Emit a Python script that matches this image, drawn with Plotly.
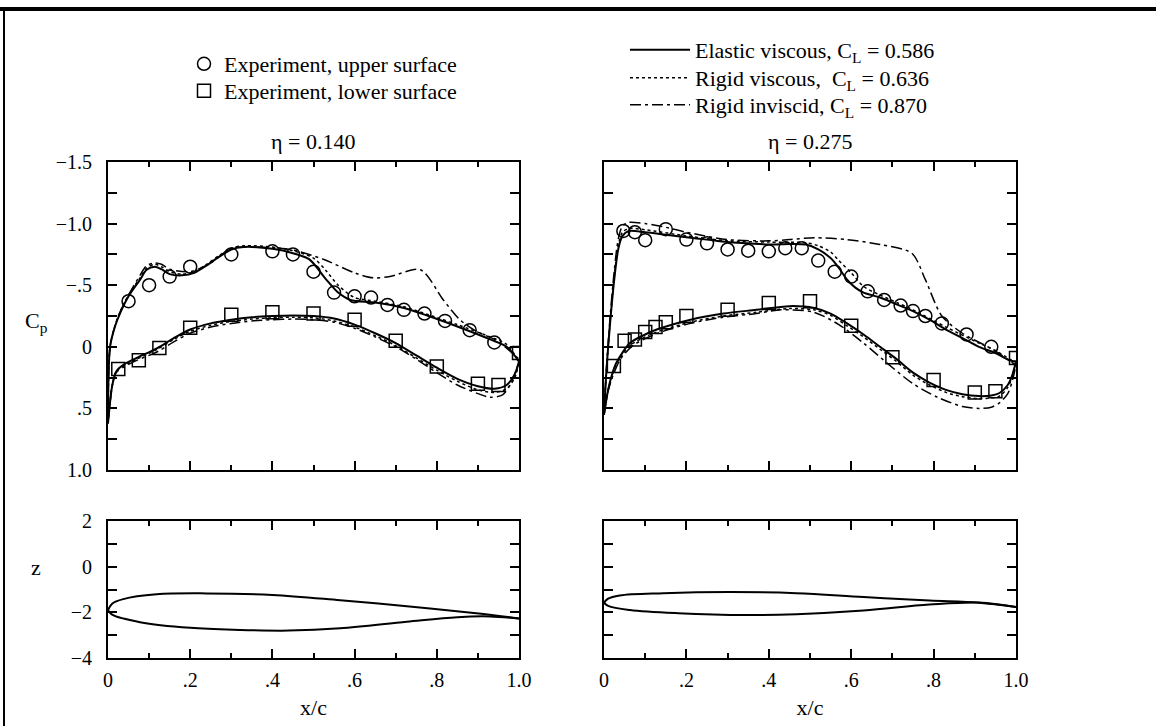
import plotly.graph_objects as go

W, H = 1156, 726
SERIF = "Liberation Serif, Times New Roman, serif"

# ---------------- eta = 0.140 : pressure coefficient ----------------
x_up_exp_140 = [0.05, 0.10, 0.15, 0.20, 0.30, 0.40, 0.45, 0.50, 0.55, 0.60, 0.64, 0.68, 0.72, 0.77, 0.82, 0.88, 0.94]
cp_up_exp_140 = [-0.37, -0.50, -0.57, -0.65, -0.75, -0.775, -0.75, -0.61, -0.44, -0.41, -0.40, -0.34, -0.30, -0.27, -0.21, -0.135, -0.035]
x_lo_exp_140 = [0.025, 0.075, 0.125, 0.20, 0.30, 0.40, 0.50, 0.60, 0.70, 0.80, 0.90, 0.95, 1.00]
cp_lo_exp_140 = [0.18, 0.11, 0.01, -0.155, -0.26, -0.28, -0.27, -0.22, -0.05, 0.16, 0.30, 0.31, 0.05]

x_ev_up_140 = [0.0, 0.005, 0.017, 0.029, 0.05, 0.078, 0.094, 0.114, 0.13, 0.15, 0.18, 0.21, 0.24, 0.27, 0.30, 0.33, 0.40, 0.45, 0.49, 0.53, 0.56, 0.59, 0.65, 0.72, 0.78, 0.85, 0.93, 0.97, 1.0]
cp_ev_up_140 = [0.62, 0.0, -0.165, -0.27, -0.41, -0.545, -0.625, -0.65, -0.63, -0.59, -0.58, -0.60, -0.66, -0.73, -0.79, -0.81, -0.795, -0.76, -0.71, -0.55, -0.44, -0.38, -0.36, -0.315, -0.25, -0.165, -0.06, 0.0, 0.12]
x_rv_up_140 = [0.0, 0.005, 0.017, 0.029, 0.05, 0.078, 0.094, 0.114, 0.13, 0.15, 0.18, 0.21, 0.24, 0.27, 0.30, 0.33, 0.40, 0.45, 0.50, 0.53, 0.56, 0.60, 0.65, 0.72, 0.78, 0.85, 0.93, 0.97, 1.0]
cp_rv_up_140 = [0.62, 0.0, -0.17, -0.28, -0.42, -0.56, -0.64, -0.67, -0.65, -0.61, -0.59, -0.61, -0.67, -0.74, -0.80, -0.82, -0.81, -0.78, -0.72, -0.62, -0.50, -0.40, -0.37, -0.325, -0.26, -0.18, -0.08, -0.02, 0.12]
x_ri_up_140 = [0.0, 0.005, 0.017, 0.029, 0.05, 0.078, 0.094, 0.114, 0.13, 0.15, 0.20, 0.25, 0.30, 0.35, 0.443, 0.524, 0.60, 0.645, 0.686, 0.76, 0.816, 0.856, 0.897, 0.946, 1.0]
cp_ri_up_140 = [0.62, 0.0, -0.17, -0.28, -0.42, -0.58, -0.66, -0.68, -0.67, -0.63, -0.61, -0.68, -0.80, -0.81, -0.79, -0.71, -0.60, -0.56, -0.57, -0.625, -0.38, -0.22, -0.125, -0.05, 0.10]

x_ev_lo_140 = [0.0, 0.005, 0.01, 0.02, 0.04, 0.07, 0.12, 0.16, 0.20, 0.25, 0.30, 0.35, 0.40, 0.45, 0.50, 0.55, 0.60, 0.65, 0.70, 0.75, 0.80, 0.85, 0.90, 0.94, 0.97, 0.99, 1.0]
cp_ev_lo_140 = [0.62, 0.45, 0.32, 0.20, 0.14, 0.09, 0.01, -0.07, -0.14, -0.19, -0.22, -0.24, -0.25, -0.255, -0.25, -0.23, -0.18, -0.11, -0.03, 0.07, 0.17, 0.26, 0.32, 0.34, 0.31, 0.22, 0.12]
x_rv_lo_140 = [0.0, 0.005, 0.01, 0.02, 0.04, 0.07, 0.12, 0.16, 0.20, 0.25, 0.30, 0.35, 0.40, 0.45, 0.50, 0.55, 0.60, 0.65, 0.70, 0.75, 0.80, 0.85, 0.90, 0.94, 0.97, 0.99, 1.0]
cp_rv_lo_140 = [0.62, 0.45, 0.32, 0.20, 0.15, 0.10, 0.02, -0.06, -0.125, -0.175, -0.205, -0.225, -0.235, -0.24, -0.235, -0.21, -0.16, -0.09, -0.01, 0.09, 0.19, 0.28, 0.35, 0.37, 0.34, 0.25, 0.12]
x_ri_lo_140 = [0.0, 0.005, 0.01, 0.02, 0.04, 0.07, 0.12, 0.16, 0.20, 0.25, 0.30, 0.35, 0.40, 0.45, 0.50, 0.55, 0.60, 0.65, 0.70, 0.75, 0.80, 0.85, 0.90, 0.93, 0.96, 0.98, 1.0]
cp_ri_lo_140 = [0.62, 0.45, 0.32, 0.21, 0.16, 0.11, 0.04, -0.04, -0.11, -0.16, -0.19, -0.21, -0.22, -0.225, -0.22, -0.20, -0.15, -0.08, 0.0, 0.10, 0.21, 0.31, 0.38, 0.41, 0.39, 0.30, 0.12]

# ---------------- eta = 0.275 : pressure coefficient ----------------
x_up_exp_275 = [0.047, 0.075, 0.10, 0.15, 0.20, 0.25, 0.30, 0.35, 0.40, 0.44, 0.48, 0.52, 0.56, 0.60, 0.64, 0.68, 0.72, 0.75, 0.78, 0.82, 0.88, 0.94]
cp_up_exp_275 = [-0.94, -0.93, -0.865, -0.955, -0.87, -0.84, -0.79, -0.78, -0.775, -0.80, -0.80, -0.70, -0.61, -0.57, -0.45, -0.38, -0.335, -0.29, -0.25, -0.19, -0.10, 0.0]
x_lo_exp_275 = [0.024, 0.05, 0.075, 0.10, 0.125, 0.15, 0.20, 0.30, 0.40, 0.50, 0.60, 0.70, 0.80, 0.90, 0.95, 1.00]
cp_lo_exp_275 = [0.155, -0.05, -0.06, -0.12, -0.16, -0.20, -0.25, -0.30, -0.355, -0.37, -0.17, 0.085, 0.27, 0.37, 0.36, 0.09]

x_ev_up_275 = [0.0, 0.006, 0.015, 0.025, 0.035, 0.045, 0.06, 0.10, 0.15, 0.20, 0.25, 0.30, 0.35, 0.40, 0.45, 0.49, 0.52, 0.55, 0.57, 0.59, 0.61, 0.63, 0.67, 0.71, 0.75, 0.79, 0.83, 0.87, 0.91, 0.95, 0.985, 1.0]
cp_ev_up_275 = [0.55, 0.19, -0.20, -0.55, -0.80, -0.90, -0.94, -0.93, -0.91, -0.89, -0.87, -0.85, -0.84, -0.83, -0.835, -0.83, -0.79, -0.72, -0.64, -0.545, -0.48, -0.44, -0.40, -0.345, -0.29, -0.22, -0.14, -0.07, 0.0, 0.05, 0.11, 0.12]
x_rv_up_275 = [0.0, 0.006, 0.015, 0.025, 0.035, 0.045, 0.06, 0.10, 0.20, 0.30, 0.40, 0.49, 0.52, 0.55, 0.57, 0.60, 0.63, 0.67, 0.71, 0.75, 0.83, 0.91, 0.95, 0.985, 1.0]
cp_rv_up_275 = [0.55, 0.19, -0.21, -0.57, -0.83, -0.93, -0.96, -0.95, -0.90, -0.86, -0.85, -0.845, -0.82, -0.77, -0.70, -0.60, -0.49, -0.42, -0.36, -0.30, -0.16, -0.03, 0.03, 0.10, 0.12]
x_ri_up_275 = [0.0, 0.006, 0.015, 0.025, 0.035, 0.045, 0.06, 0.10, 0.15, 0.20, 0.30, 0.40, 0.45, 0.51, 0.59, 0.67, 0.747, 0.78, 0.82, 0.87, 0.945, 1.0]
cp_ri_up_275 = [0.55, 0.17, -0.25, -0.62, -0.88, -0.98, -1.01, -1.00, -0.97, -0.93, -0.87, -0.86, -0.87, -0.885, -0.87, -0.83, -0.76, -0.545, -0.25, -0.11, 0.025, 0.15]

x_ev_lo_275 = [0.0, 0.01, 0.02, 0.03, 0.063, 0.10, 0.128, 0.21, 0.29, 0.37, 0.45, 0.51, 0.55, 0.59, 0.63, 0.67, 0.71, 0.75, 0.79, 0.83, 0.87, 0.91, 0.94, 0.96, 0.98, 0.99, 1.0]
cp_ev_lo_275 = [0.55, 0.35, 0.22, 0.13, -0.03, -0.10, -0.14, -0.22, -0.27, -0.30, -0.33, -0.315, -0.27, -0.19, -0.10, 0.0, 0.10, 0.21, 0.29, 0.35, 0.385, 0.40, 0.395, 0.375, 0.31, 0.24, 0.12]
x_rv_lo_275 = [0.0, 0.01, 0.02, 0.03, 0.063, 0.10, 0.128, 0.21, 0.29, 0.37, 0.45, 0.51, 0.55, 0.59, 0.63, 0.67, 0.71, 0.75, 0.79, 0.83, 0.87, 0.91, 0.94, 0.96, 0.98, 0.99, 1.0]
cp_rv_lo_275 = [0.55, 0.35, 0.23, 0.14, -0.01, -0.08, -0.12, -0.20, -0.25, -0.28, -0.31, -0.30, -0.255, -0.17, -0.08, 0.02, 0.12, 0.23, 0.31, 0.37, 0.405, 0.42, 0.415, 0.40, 0.33, 0.25, 0.12]
x_ri_lo_275 = [0.0, 0.01, 0.02, 0.04, 0.07, 0.13, 0.21, 0.29, 0.37, 0.43, 0.51, 0.57, 0.63, 0.69, 0.75, 0.81, 0.87, 0.91, 0.94, 0.96, 0.98, 0.99, 1.0]
cp_ri_lo_275 = [0.55, 0.36, 0.25, 0.10, -0.01, -0.11, -0.19, -0.24, -0.27, -0.30, -0.28, -0.18, -0.03, 0.14, 0.30, 0.41, 0.485, 0.50, 0.49, 0.455, 0.38, 0.29, 0.15]

# ---------------- section geometry (z) ----------------
x_sec_up_140 = [0.0, 0.01, 0.037, 0.118, 0.24, 0.40, 0.565, 0.727, 0.89, 1.0]
z_sec_up_140 = [-1.91, -1.62, -1.42, -1.21, -1.17, -1.24, -1.47, -1.73, -2.03, -2.27]
x_sec_lo_140 = [0.0, 0.01, 0.078, 0.20, 0.32, 0.44, 0.565, 0.727, 0.85, 0.93, 1.0]
z_sec_lo_140 = [-1.91, -2.10, -2.43, -2.68, -2.77, -2.80, -2.70, -2.41, -2.21, -2.18, -2.27]
x_sec_up_275 = [0.0, 0.01, 0.038, 0.144, 0.306, 0.467, 0.63, 0.79, 0.91, 1.0]
z_sec_up_275 = [-1.58, -1.40, -1.26, -1.16, -1.11, -1.16, -1.33, -1.48, -1.58, -1.77]
x_sec_lo_275 = [0.0, 0.01, 0.063, 0.18, 0.346, 0.467, 0.63, 0.79, 0.91, 1.0]
z_sec_lo_275 = [-1.58, -1.72, -1.90, -2.04, -2.12, -2.08, -1.92, -1.66, -1.57, -1.77]

# tick labels
x_tickvals = [0, 0.2, 0.4, 0.6, 0.8, 1.0]
x_ticktext = ["0", ".2", ".4", ".6", ".8", "1.0"]
cp_tickvals = [-1.5, -1.0, -0.5, 0, 0.5, 1.0]
cp_ticktext = ["\u22121.5", "\u22121.0", "\u2212.5", "0", ".5", "1.0"]
z_tickvals = [2, 0, -2, -4]
z_ticktext = ["2", "0", "\u22122", "\u22124"]

series_names = [
    "Experiment, upper surface",
    "Experiment, lower surface",
    "Elastic viscous, C<sub>L</sub> = 0.586",
    "Rigid viscous,  C<sub>L</sub> = 0.636",
    "Rigid inviscid, C<sub>L</sub> = 0.870",
]

# ---------------- styling ----------------
SOLID = dict(color="black", width=2)
DOTTED = dict(color="black", width=1.5, dash="3px,3px")
DASHDOT = dict(color="black", width=1.5, dash="11px,4px,3px,4px")
TICK_SIZE = 20
TEXT_SIZE = 22


def px_x(p):
    return p / W


def px_y(p):
    return 1 - p / H


fig = go.Figure()

panels = [
    ("x", "y", "x3", "y3", True,
     (x_up_exp_140, cp_up_exp_140, x_lo_exp_140, cp_lo_exp_140),
     [(x_ev_up_140, cp_ev_up_140, x_ev_lo_140, cp_ev_lo_140),
      (x_rv_up_140, cp_rv_up_140, x_rv_lo_140, cp_rv_lo_140),
      (x_ri_up_140, cp_ri_up_140, x_ri_lo_140, cp_ri_lo_140)],
     (x_sec_up_140, z_sec_up_140, x_sec_lo_140, z_sec_lo_140)),
    ("x2", "y2", "x4", "y4", False,
     (x_up_exp_275, cp_up_exp_275, x_lo_exp_275, cp_lo_exp_275),
     [(x_ev_up_275, cp_ev_up_275, x_ev_lo_275, cp_ev_lo_275),
      (x_rv_up_275, cp_rv_up_275, x_rv_lo_275, cp_rv_lo_275),
      (x_ri_up_275, cp_ri_up_275, x_ri_lo_275, cp_ri_lo_275)],
     (x_sec_up_275, z_sec_up_275, x_sec_lo_275, z_sec_lo_275)),
]

line_styles = [SOLID, DOTTED, DASHDOT]
line_legends = ["legend3", "legend4", "legend5"]

for xa, ya, xb, yb, first, exp, comp, sec in panels:
    # computed distributions, upper and lower surface
    for k, (xu, cu, xl, cl) in enumerate(comp):
        name = series_names[2 + k]
        for j, (xs, cs) in enumerate(((xu, cu), (xl, cl))):
            fig.add_trace(go.Scatter(
                x=xs, y=cs, mode="lines", xaxis=xa, yaxis=ya,
                line=dict(shape="spline", smoothing=0.8, **line_styles[k]),
                name=name, legendgroup=name, legend=line_legends[k],
                showlegend=first and j == 0))
    # measurements
    fig.add_trace(go.Scatter(
        x=exp[0], y=exp[1], mode="markers", xaxis=xa, yaxis=ya,
        marker=dict(symbol="circle-open", size=13, color="black", line=dict(width=1.5)),
        name=series_names[0], legendgroup="up", legend="legend", showlegend=first))
    fig.add_trace(go.Scatter(
        x=exp[2], y=exp[3], mode="markers", xaxis=xa, yaxis=ya,
        marker=dict(symbol="square-open", size=13, color="black", line=dict(width=1.5)),
        name=series_names[1], legendgroup="lo", legend="legend2", showlegend=first))
    # section shape
    for xs, zs in ((sec[0], sec[1]), (sec[2], sec[3])):
        fig.add_trace(go.Scatter(
            x=xs, y=zs, mode="lines", xaxis=xb, yaxis=yb,
            line=dict(shape="spline", smoothing=1.0, color="black", width=2),
            showlegend=False))

TICKFONT = dict(family=SERIF, size=TICK_SIZE, color="black")


def xaxis_cfg(domain, anchor, labels):
    return dict(
        domain=domain, anchor=anchor, range=[0, 1], showgrid=False, zeroline=False,
        showline=True, linecolor="black", linewidth=2, mirror="allticks",
        ticks="inside", ticklen=9, tickwidth=1.5, tickcolor="black",
        tickmode="array", tickvals=x_tickvals, ticktext=x_ticktext,
        showticklabels=labels, tickfont=TICKFONT, ticklabelstandoff=3,
        minor=dict(ticks="inside", ticklen=5, tickwidth=1.5, tickcolor="black",
                   tickmode="linear", tick0=0, dtick=0.1),
    )


def yaxis_cfg(domain, anchor, rng, vals, text, mdtick, labels):
    return dict(
        domain=domain, anchor=anchor, range=rng, showgrid=False, zeroline=False,
        showline=True, linecolor="black", linewidth=2, mirror="allticks",
        ticks="inside", ticklen=9, tickwidth=1.5, tickcolor="black",
        tickmode="array", tickvals=vals, ticktext=text,
        showticklabels=labels, tickfont=TICKFONT, ticklabelstandoff=10,
        minor=dict(ticks="inside", ticklen=9, tickwidth=1.5, tickcolor="black",
                   tickmode="linear", tick0=0, dtick=mdtick),
    )


dom_left = [px_x(108), px_x(519)]
dom_right = [px_x(604), px_x(1016)]
dom_top = [px_y(470), px_y(162)]
dom_bot = [px_y(658), px_y(521)]

title_font = dict(family=SERIF, size=TEXT_SIZE, color="black")
xa3 = xaxis_cfg(dom_left, "y3", True)
xa3["title"] = dict(text="x/c", font=title_font, standoff=10)
xa4 = xaxis_cfg(dom_right, "y4", True)
xa4["title"] = dict(text="x/c", font=title_font, standoff=10)


def legend_at(xp, yp, width):
    return dict(x=px_x(xp), y=px_y(yp), xanchor="left", yanchor="middle",
                bgcolor="rgba(0,0,0,0)", font=dict(family=SERIF, size=TEXT_SIZE),
                tracegroupgap=0, itemwidth=width)


fig.update_layout(
    width=W, height=H, autosize=False,
    margin=dict(l=0, r=0, t=0, b=0, autoexpand=False),
    paper_bgcolor="white", plot_bgcolor="white",
    font=dict(family=SERIF, size=TEXT_SIZE, color="black"),
    xaxis=xaxis_cfg(dom_left, "y", False),
    xaxis2=xaxis_cfg(dom_right, "y2", False),
    xaxis3=xa3,
    xaxis4=xa4,
    yaxis=yaxis_cfg(dom_top, "x", [1.0, -1.5], cp_tickvals, cp_ticktext, 0.25, True),
    yaxis2=yaxis_cfg(dom_top, "x2", [1.0, -1.5], cp_tickvals, cp_ticktext, 0.25, False),
    yaxis3=yaxis_cfg(dom_bot, "x3", [-4, 2], z_tickvals, z_ticktext, 1, True),
    yaxis4=yaxis_cfg(dom_bot, "x4", [-4, 2], z_tickvals, z_ticktext, 1, False),
    legend=legend_at(184, 64, 30),
    legend2=legend_at(184, 91, 30),
    legend3=legend_at(625, 50, 60),
    legend4=legend_at(625, 78, 60),
    legend5=legend_at(625, 105, 60),
    showlegend=True,
)

# panel titles and y-axis labels
for xp, yp, label in ((313, 141, "\u03b7 = 0.140"), (810, 141, "\u03b7 = 0.275"),
                      (36, 322, "C<sub>p</sub>"), (36, 567, "z")):
    fig.add_annotation(x=px_x(xp), y=px_y(yp), xref="paper", yref="paper",
                       xanchor="center", yanchor="middle",
                       text=label, showarrow=False, font=title_font)

# frame rules along the top and left edges
fig.add_shape(type="line", xref="paper", yref="paper", x0=0, x1=1,
              y0=px_y(9), y1=px_y(9), line=dict(color="black", width=4))
fig.add_shape(type="line", xref="paper", yref="paper", x0=px_x(4), x1=px_x(4),
              y0=0, y1=px_y(9), line=dict(color="black", width=2))

fig.write_html("out.html")
